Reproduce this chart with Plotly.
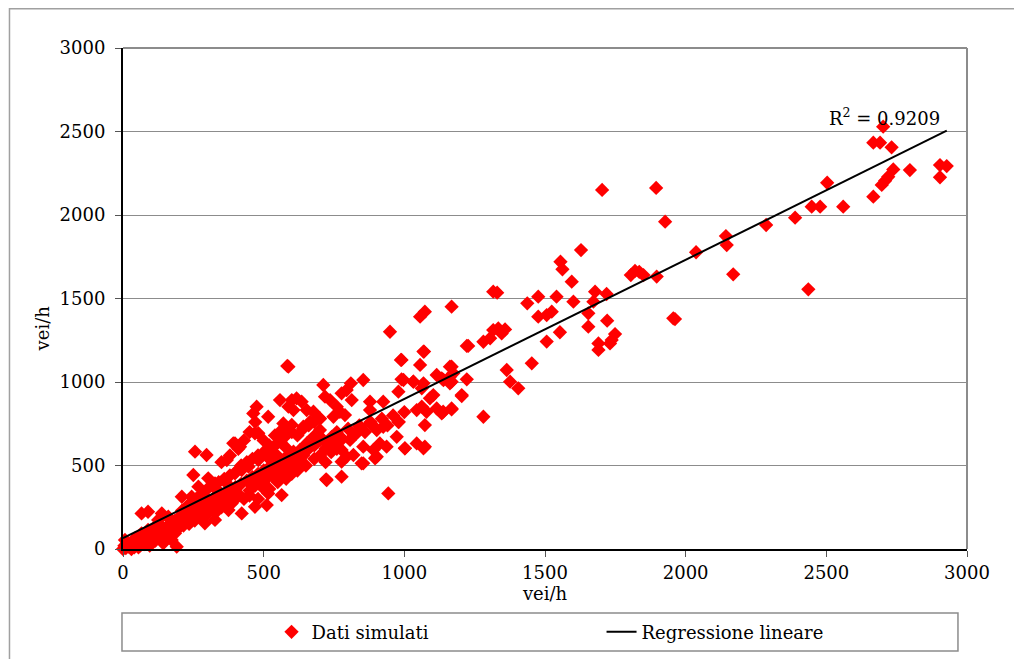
import plotly.graph_objects as go

# ---- data ----
x_sim = [
    0, 10, 20, 30, 40, 50, 60, 70, 80, 90, 100, 110, 120, 130, 140, 150, 160, 170, 180, 190,
    200, 210, 220, 230, 240, 250, 260, 270, 280, 290, 300,
    5, 15, 25, 35, 45, 55, 65, 75, 85, 95, 105, 115, 125, 135, 145, 155, 165, 175, 185, 195,
    205, 215, 225, 235, 245, 255, 265, 275, 285, 295,
    66, 89, 138, 161, 173, 143, 7, 43, 66, 89, 114, 125, 161, 185, 191, 268, 244, 209, 232, 244,
    268, 209, 291, 327, 363, 386, 422, 375, 327, 291, 564, 511, 469,
    310, 320, 330, 340, 350, 360, 370, 380, 390, 400, 410, 420, 430, 440, 450, 460, 470, 480, 490, 500,
    510, 520, 530, 540, 550, 560, 570, 580, 590, 600,
    398, 422, 446, 481, 505, 529, 375, 457, 493, 516, 540, 564, 576, 564, 600, 540, 256, 297, 469, 398,
    369, 250, 303, 327, 392, 416, 333, 576, 606, 475, 516, 463, 481, 588,
    450, 470, 500, 520, 540, 560, 580, 430, 410, 380, 350, 520, 560, 600, 620, 640, 660, 680, 700, 720,
    740, 760, 780, 800, 820, 840, 860, 880, 900, 920, 940, 960, 980, 1000,
    584, 988, 1070, 1222, 712, 810, 795, 777, 854, 736, 718, 600, 617, 635, 588, 606, 653, 677, 700, 760,
    771, 789, 748, 813, 878, 878, 925, 979, 990, 1032, 1062, 1068, 1115, 1133, 1168, 1168, 1162, 1204, 1103, 1091,
    1044, 1062, 1079, 1115, 1138, 1168, 1073, 979, 1002, 1073, 943, 722, 777, 558, 570, 582,
    641, 665, 700, 677, 653, 629, 606, 582, 712, 742, 760, 777, 795, 777, 807, 830, 842, 878, 902, 925,
    854, 890, 913, 937, 819, 848, 902, 973, 1044, 558, 594, 546,
    949, 1056, 1073, 990, 1068, 1056, 997, 1032, 724, 854, 896, 1002, 1068,
    1316, 1330, 1595, 1678, 1719, 1672, 1654, 1654, 1721, 1749, 1737, 1731, 1690, 1690, 1956, 1168,
    1437, 1476, 1541, 1601, 1476, 1506, 1524, 1553, 1506, 1316, 1334, 1358, 1346, 1281, 1305, 1227,
    1453, 1364, 1376, 1405, 1162, 1174, 1222, 1204, 1139, 1162, 1168, 1133, 1281,
    1927, 1897, 2037, 2143, 2146, 2169, 2286, 1962, 1895, 1703, 1628, 1555, 1562, 1805, 1820, 1835, 1850,
    2702, 2667, 2691, 2732, 2904, 2928, 2904, 2797, 2738, 2720, 2709, 2697, 2667, 2503, 2478, 2448,
    2560, 2389, 2436,
    210, 230, 260, 280, 300, 320, 340, 360, 380, 400, 420, 440, 460, 480, 500, 520, 540, 560, 580, 600,
    620, 640, 660, 680, 700,
    350, 400, 450, 480, 520, 550, 580, 600, 620, 650, 680, 700, 720, 740, 760,
]
y_sim = [
    0, 5, 15, 0, 10, 30, 20, 40, 50, 60, 40, 80, 70, 100, 90, 120, 110, 140, 130, 150,
    170, 160, 190, 180, 210, 200, 230, 220, 250, 240, 270,
    20, 40, 30, 50, 20, 10, 60, 30, 80, 20, 100, 50, 90, 140, 60, 130, 180, 100, 170, 120,
    200, 140, 230, 150, 250, 170, 270, 190, 300, 200,
    213, 223, 213, 193, 54, 34, 54, 64, 94, 114, 134, 174, 134, 94, 14, 213, 174, 174, 253, 313,
    373, 313, 313, 293, 333, 273, 213, 233, 174, 154, 323, 263, 253,
    250, 300, 220, 280, 330, 260, 310, 350, 290, 370, 330, 390, 300, 410, 350, 430, 380, 450, 400, 470,
    420, 490, 440, 510, 460, 530, 480, 550, 500, 520,
    453, 473, 493, 533, 573, 603, 383, 393, 373, 333, 493, 533, 433, 713, 743, 573, 583, 563, 693, 633,
    533, 443, 423, 393, 633, 613, 353, 613, 583, 852, 792, 812, 693, 1092,
    700, 760, 650, 620, 680, 640, 700, 650, 600, 560, 520, 540, 470, 480, 520, 560, 600, 620, 650, 600,
    640, 700, 660, 720, 680, 740, 700, 760, 720, 780, 740, 800, 760, 820,
    1096, 1132, 1182, 1216, 982, 992, 952, 932, 1012, 892, 912, 892, 902, 882, 852, 832, 832, 822, 782, 852,
    822, 802, 792, 892, 882, 832, 882, 942, 1016, 1002, 962, 992, 1042, 1022, 1092, 1002, 1032, 922, 922, 902,
    832, 852, 822, 842, 822, 842, 742, 762, 603, 613, 333, 417, 433, 892, 752, 712,
    732, 762, 712, 672, 632, 593, 573, 553, 653, 672, 632, 593, 553, 523, 653, 692, 732, 752, 712, 732,
    613, 593, 632, 613, 563, 513, 553, 672, 632, 513, 473, 433,
    1301, 1391, 1421, 1132, 1182, 1102, 1012, 1002, 413, 513, 543, 603, 603,
    1541, 1535, 1601, 1541, 1527, 1481, 1411, 1331, 1367, 1287, 1251, 1231, 1231, 1192, 1381, 1451,
    1471, 1511, 1511, 1481, 1391, 1401, 1421, 1298, 1242, 1311, 1321, 1315, 1291, 1241, 1262, 1216,
    1112, 1072, 1002, 962, 1092, 1052, 1016, 916, 1012, 992, 836, 812, 792,
    1960, 1631, 1777, 1874, 1820, 1645, 1940, 1377, 2162, 2150, 1790, 1720, 1675, 1640, 1665, 1660, 1640,
    2529, 2433, 2433, 2405, 2299, 2293, 2226, 2269, 2273, 2229, 2205, 2180, 2110, 2193, 2050, 2050,
    2050, 1984, 1555,
    230, 260, 300, 330, 360, 380, 400, 420, 440, 460, 500, 520, 540, 560, 580, 600, 620, 660, 680, 700,
    680, 720, 740, 760, 780,
    250, 300, 320, 300, 360, 400, 420, 450, 470, 500, 540, 560, 520, 580, 600,
]

# linear regression (trend line) end points and label
reg_x = [0, 2928]
reg_y = [65, 2505]
r2_text = "R<sup>2</sup> = 0.9209"
axis_title = "vei/h"

x_ticks = [0, 500, 1000, 1500, 2000, 2500, 3000]
y_ticks = [0, 500, 1000, 1500, 2000, 2500, 3000]

FONT = "DejaVu Serif"
FS = 18

fig = go.Figure()
fig.add_trace(go.Scatter(
    x=x_sim, y=y_sim, mode="markers", name="Dati simulati",
    marker=dict(symbol="diamond", size=11, color="#FF0000", line=dict(width=0)),
    cliponaxis=False,
))
fig.add_trace(go.Scatter(
    x=reg_x, y=reg_y, mode="lines", name="Regressione lineare",
    line=dict(color="black", width=2),
))

fig.add_annotation(x=2910, y=2505, xref="x", yref="y", text=r2_text, showarrow=False,
                   xanchor="right", yanchor="bottom", font=dict(family=FONT, size=FS, color="black"))
# y-axis title
fig.add_annotation(x=-0.095, y=0.44, xref="paper", yref="paper", text=axis_title, showarrow=False,
                   textangle=-90, xanchor="center", yanchor="middle",
                   font=dict(family=FONT, size=FS, color="black"))

# the page body adds an 8px offset, so the figure is 8px smaller and margins shifted
fig.update_layout(
    width=1014, height=651,
    margin=dict(l=115, r=55, t=40, b=110, autoexpand=False),
    paper_bgcolor="white", plot_bgcolor="white",
    font=dict(family=FONT, size=FS, color="black"),
    showlegend=True,
    legend=dict(orientation="h", x=0.176, y=-0.166, xanchor="left", yanchor="middle",
                bgcolor="rgba(0,0,0,0)", borderwidth=0, entrywidth=285,
                font=dict(family=FONT, size=FS, color="black")),
    xaxis=dict(range=[0, 3000], tickvals=x_ticks, showgrid=False, zeroline=False,
               showline=True, linecolor="black", linewidth=2,
               ticks="outside", ticklen=6, tickcolor="#555555",
               title=dict(text=axis_title, standoff=5, font=dict(family=FONT, size=FS))),
    yaxis=dict(range=[0, 3000], tickvals=y_ticks, showgrid=True, gridcolor="#8c8c8c", gridwidth=1,
               zeroline=False, showline=True, linecolor="black", linewidth=2,
               ticks="outside", ticklen=6, tickcolor="#555555", ticklabelstandoff=6),
    shapes=[
        # top & right frame of plot area (grey)
        dict(type="line", xref="paper", yref="paper", x0=0, x1=1, y0=1, y1=1,
             line=dict(color="#8c8c8c", width=2)),
        dict(type="line", xref="paper", yref="paper", x0=1, x1=1, y0=0, y1=1,
             line=dict(color="#8c8c8c", width=2)),
        # legend box
        dict(type="rect", xref="paper", yref="paper", x0=-0.0012, x1=0.9893, y0=-0.2036, y1=-0.1277,
             line=dict(color="#8c8c8c", width=1.5), fillcolor="rgba(0,0,0,0)"),
        # outer chart border
        dict(type="rect", xref="paper", yref="paper", x0=-0.1345, x1=1.2, y0=-0.4, y1=1.0782,
             line=dict(color="#a0a0a0", width=1.5), fillcolor="rgba(0,0,0,0)"),
    ],
)

fig.write_html("out.html")
